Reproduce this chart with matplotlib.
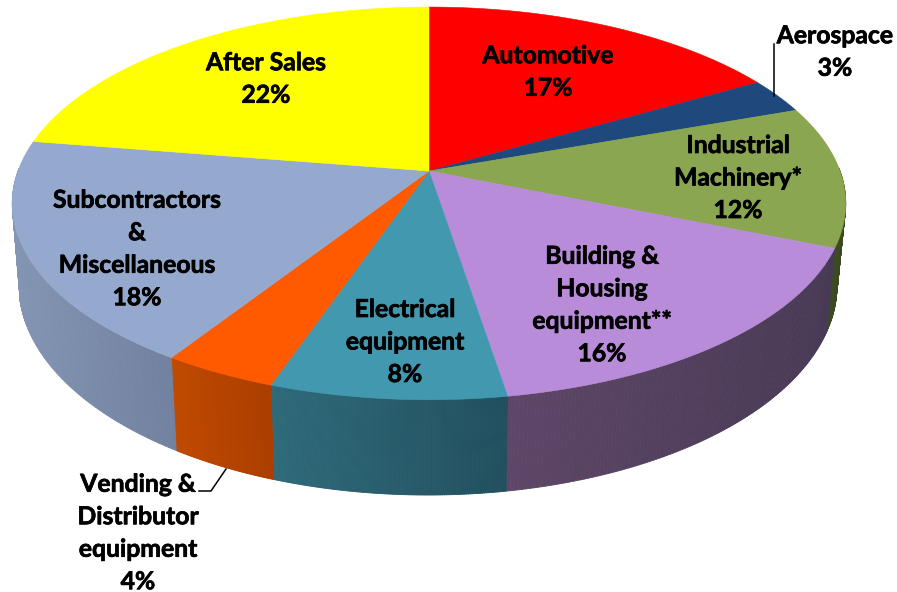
import numpy as np
import matplotlib
matplotlib.use("Agg")
import matplotlib.pyplot as plt
import matplotlib.patheffects as pe
from matplotlib.collections import PolyCollection
from matplotlib.colors import to_rgb

plt.rcParams['font.family'] = ['Lato', 'DejaVu Sans']

categories = ["Automotive", "Aerospace", "Industrial\nMachinery*",
              "Building &\nHousing\nequipment**", "Electrical\nequipment",
              "Vending &\nDistributor\nequipment", "Subcontractors\n&\nMiscellaneous",
              "After Sales"]
shares = [16.6, 2.9, 11.6, 16.2, 7.8, 3.8, 18.4, 22.4]
percent_labels = ["17%", "3%", "12%", "16%", "8%", "4%", "18%", "22%"]

top_colors = ["#FF0000", "#1F497D", "#8BA650", "#B88CD8", "#4198AF", "#FF5A00", "#95A9CF", "#FFFF00"]
side_left = ["#990000", "#122C4B", "#3E4C24", "#5E4668", "#2E6A7A", "#C04A00", "#8395B3", "#999900"]
side_right = ["#990000", "#122C4B", "#3A4720", "#483A55", "#214F5E", "#AB3E00", "#71819F", "#999900"]
label_pos = [(548, 72), (835, 52), (738, 178), (602, 305), (405, 342), (138, 533), (137, 249), (266, 79)]

# projection of the tilted disc
AX, AY = 429.0, 171.0   # apex
A, B, K = 411.0, 191.0, 0.165
CB, RXB, CYB, RYB = 428.0, 409.0, 285.0, 210.0   # lower rim ellipse
TOP_CX, TOP_RX = 428.0, 417.0


def rim(theta):
    u, v = np.sin(theta), np.cos(theta)
    w = 1 + K * v
    return AX + A * u / w, AY - B * v / w


def lower(x):
    xb = CB + (x - TOP_CX) * RXB / TOP_RX
    s = np.clip(1 - ((xb - CB) / RXB) ** 2, 0, 1)
    return xb, CYB + RYB * np.sqrt(s)


fig = plt.figure(figsize=(8.97, 5.92), dpi=100)
ax = fig.add_axes([0, 0, 1, 1])
ax.set_xlim(0, 897)
ax.set_ylim(592, 0)
ax.axis("off")

edges = np.radians(np.cumsum([0] + shares) / sum(shares) * 360)

# front wall
for i in range(len(shares)):
    t = np.linspace(edges[i], edges[i + 1], 120)
    x, y = rim(t)
    vis = (t > np.pi * 0.5 - 0.02) & (t < np.pi * 1.5 + 0.02)
    if vis.sum() < 2:
        continue
    x, y = x[vis], y[vis]
    xb, yb = lower(x)
    polys = []
    cols = []
    c0, c1 = np.array(to_rgb(side_left[i])), np.array(to_rgb(side_right[i]))
    xmin, xmax = x.min(), x.max()
    for j in range(len(x) - 1):
        polys.append([(x[j], y[j]), (x[j + 1], y[j + 1]), (xb[j + 1], yb[j + 1]), (xb[j], yb[j])])
        f = (0.5 * (x[j] + x[j + 1]) - xmin) / max(xmax - xmin, 1)
        cols.append(c0 + (c1 - c0) * f)
    ax.add_collection(PolyCollection(polys, facecolors=cols, edgecolors=cols, linewidths=0.6, zorder=2))

# top face
for i in range(len(shares)):
    t = np.linspace(edges[i], edges[i + 1], 200)
    x, y = rim(t)
    ax.fill(np.r_[AX, x], np.r_[AY, y], color=top_colors[i], lw=0.4, zorder=3)

# leader lines
ax.plot([774, 774], [44, 96], color="black", lw=1.1, zorder=4)
ax.plot([199, 211, 226], [491, 491, 469], color="black", lw=1.1, zorder=4)

# labels
for name, pct, (lx, ly) in zip(categories, percent_labels, label_pos):
    ax.text(lx, ly, name + "\n" + pct, ha="center", va="center", ma="center",
            fontsize=17.8, fontweight="bold", color="black", linespacing=1.5, zorder=5,
            path_effects=[pe.withStroke(linewidth=0.5, foreground="black")])

fig.savefig("out.png", dpi=100)
